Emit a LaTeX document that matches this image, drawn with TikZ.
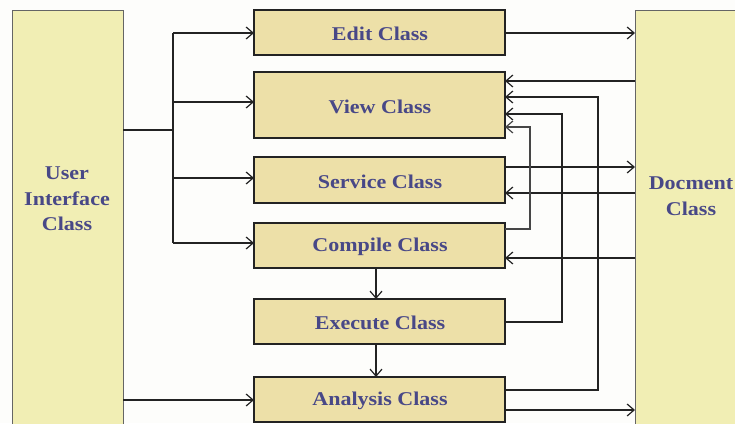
\documentclass[tikz,border=0pt]{standalone}
\usepackage{fontspec}
\setmainfont{Liberation Serif}[FakeStretch=1.13]
\usetikzlibrary{arrows.meta}
\definecolor{bgwhite}{RGB}{253,253,251}
\definecolor{classfill}{RGB}{237,224,168}
\definecolor{sidefill}{RGB}{241,238,180}
\definecolor{labelblue}{RGB}{72,72,135}
\definecolor{edge}{RGB}{35,35,35}
\definecolor{thinedge}{RGB}{70,70,70}
\tikzset{
  classbox/.style={draw=edge, line width=1.3pt, fill=classfill, inner sep=0pt},
  sidebox/.style={draw=edge!70, line width=0.8pt, fill=sidefill, inner sep=0pt},
  label/.style={text=labelblue, font=\bfseries\fontsize{19.5}{25.5}\selectfont, align=center},
  link/.style={draw=edge, line width=1.3pt, -{Straight Barb[length=7pt,width=12pt,line width=1.2pt]}},
  plain/.style={draw=edge, line width=1.3pt},
}
\begin{document}
\begin{tikzpicture}[x=1pt, y=-1pt]
  \useasboundingbox (0,0) rectangle (735,423);
  \clip (0,0) rectangle (735,423);
  \fill[bgwhite] (0,0) rectangle (735,423);

  % side classes
  \draw[sidebox] (12,10) rectangle (123,430);
  \draw[sidebox] (635,10) rectangle (760,430);
  \node[label] (ui) at (67,199) {User\\Interface\\Class};
  \node[label] (doc) at (691,196) {Docment\\Class};

  % middle classes
  \foreach \name/\top/\bot/\txt in {edit/10/55/Edit Class, view/72/138/View Class,
      service/157/203/Service Class, compile/223/268/Compile Class,
      execute/299/344/Execute Class, analysis/377/422/Analysis Class} {
    \draw[classbox] (254,\top) rectangle (505,\bot);
    \node[label] (\name) at (380,{(\top+\bot)/2+1.5}) {\txt};
  }

  % user interface fan-out
  \coordinate (fork) at (173,130);
  \draw[plain] (123,130) -- (fork);
  \draw[plain] (173,33) -- (173,243);
  \draw[link] (173,33) -- (254,33);
  \draw[link] (173,102) -- (254,102);
  \draw[link] (173,178) -- (254,178);
  \draw[link] (173,243) -- (254,243);
  \draw[link] (123,400) -- (254,400);

  % vertical pipeline
  \draw[link] (376,268) -- (376,299);
  \draw[link] (376,344) -- (376,377);

  % document links
  \draw[link] (505,33) -- (635,33);
  \draw[link] (635,81) -- (505,81);
  \draw[link] (505,167) -- (635,167);
  \draw[link] (635,193) -- (505,193);
  \draw[link] (635,258) -- (505,258);
  \draw[link] (505,410) -- (635,410);

  % feedback into view class
  \draw[link] (505,390) -- (598,390) -- (598,97) -- (505,97);
  \draw[link] (505,322) -- (562,322) -- (562,114) -- (505,114);
  \draw[link, draw=thinedge, line width=1.1pt] (505,229) -- (530,229) -- (530,127) -- (505,127);
\end{tikzpicture}
\end{document}
